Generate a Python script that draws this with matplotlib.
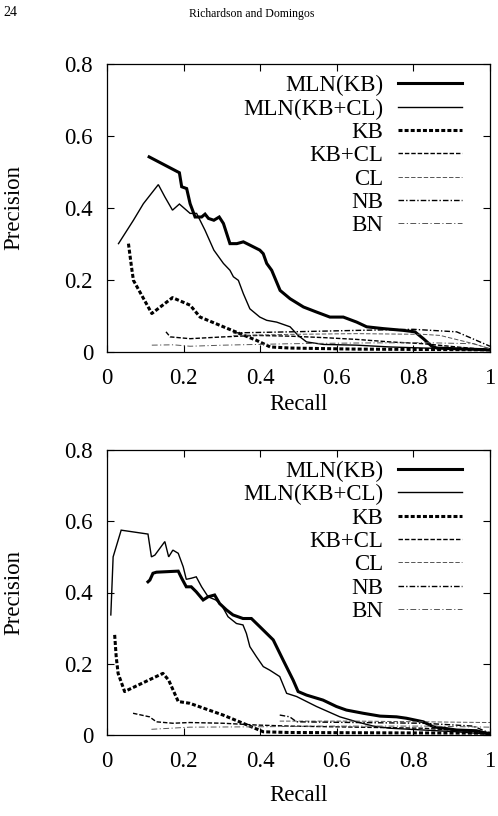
import numpy as np
import matplotlib
matplotlib.use("Agg")
import matplotlib.pyplot as plt

plt.rcParams['font.family'] = ['Liberation Serif', 'DejaVu Serif']
plt.rcParams['font.size'] = 16.5

labels = ['MLN(KB)', 'MLN(KB+CL)', 'KB', 'KB+CL', 'CL', 'NB', 'BN']

# ---- top panel ----
top_mlnkb_x = [0.11, 0.189, 0.195, 0.208, 0.217, 0.23, 0.247, 0.256, 0.265, 0.279, 0.293, 0.304,
               0.321, 0.339, 0.356, 0.373, 0.399, 0.408, 0.417, 0.43, 0.452, 0.478, 0.513, 0.547,
               0.582, 0.617, 0.652, 0.678, 0.721, 0.774, 0.804, 0.826, 0.848, 0.861, 0.913, 1.0]
top_mlnkb_y = [0.542, 0.498, 0.459, 0.454, 0.412, 0.375, 0.375, 0.383, 0.371, 0.366, 0.375, 0.357,
               0.301, 0.301, 0.306, 0.297, 0.283, 0.273, 0.246, 0.227, 0.171, 0.148, 0.125, 0.111,
               0.097, 0.097, 0.083, 0.070, 0.065, 0.060, 0.056, 0.037, 0.016, 0.011, 0.009, 0.006]

top_mlnkbcl_x = [0.03, 0.069, 0.095, 0.134, 0.151, 0.171, 0.189, 0.217, 0.234, 0.256, 0.279, 0.304,
                 0.321, 0.33, 0.343, 0.356, 0.373, 0.399, 0.417, 0.443, 0.478, 0.499, 0.521, 0.565,
                 0.652, 0.739, 0.826, 1.0]
top_mlnkbcl_y = [0.301, 0.366, 0.412, 0.465, 0.431, 0.394, 0.411, 0.385, 0.385, 0.338, 0.283, 0.246,
                 0.227, 0.209, 0.199, 0.162, 0.12, 0.097, 0.088, 0.083, 0.07, 0.046, 0.028, 0.021,
                 0.019, 0.014, 0.011, 0.007]

top_kb_x = [0.056, 0.064, 0.069, 0.117, 0.171, 0.217, 0.243, 0.304, 0.347, 0.391, 0.426, 0.478,
            0.652, 0.826, 1.0]
top_kb_y = [0.301, 0.236, 0.199, 0.107, 0.151, 0.13, 0.097, 0.07, 0.051, 0.032, 0.014, 0.011,
            0.008, 0.007, 0.006]

top_kbcl_x = [0.154, 0.165, 0.217, 0.304, 0.391, 0.478, 0.565, 0.652, 0.739, 0.826, 0.913, 1.0]
top_kbcl_y = [0.056, 0.042, 0.037, 0.042, 0.046, 0.044, 0.04, 0.035, 0.028, 0.023, 0.014, 0.006]

top_cl_x = [0.33, 0.478, 0.652, 0.826, 0.87, 0.957, 1.0]
top_cl_y = [0.046, 0.049, 0.051, 0.049, 0.046, 0.023, 0.009]

top_nb_x = [0.33, 0.478, 0.652, 0.8, 0.913, 1.0]
top_nb_y = [0.053, 0.056, 0.06, 0.063, 0.056, 0.016]

top_bn_x = [0.117, 0.173, 0.217, 0.304, 0.391, 0.478, 0.652, 0.826, 0.957, 1.0]
top_bn_y = [0.019, 0.02, 0.016, 0.019, 0.021, 0.023, 0.025, 0.026, 0.023, 0.009]

# ---- bottom panel ----
bot_mlnkb_x = [0.107, 0.112, 0.12, 0.129, 0.186, 0.195, 0.207, 0.22, 0.233, 0.251, 0.264, 0.281,
               0.294, 0.312, 0.329, 0.355, 0.377, 0.399, 0.434, 0.46, 0.486, 0.499, 0.521, 0.564,
               0.599, 0.625, 0.669, 0.713, 0.756, 0.782, 0.826, 0.852, 0.913, 0.965, 1.0]
bot_mlnkb_y = [0.43, 0.435, 0.454, 0.457, 0.46, 0.44, 0.416, 0.416, 0.402, 0.379, 0.388, 0.393,
               0.369, 0.351, 0.337, 0.327, 0.327, 0.304, 0.267, 0.21, 0.154, 0.122, 0.112, 0.098,
               0.08, 0.07, 0.061, 0.053, 0.051, 0.047, 0.037, 0.023, 0.014, 0.012, 0.002]

bot_mlnkbcl_x = [0.01, 0.016, 0.037, 0.107, 0.116, 0.125, 0.151, 0.161, 0.172, 0.186, 0.199, 0.207,
                 0.22, 0.233, 0.247, 0.264, 0.284, 0.299, 0.316, 0.338, 0.355, 0.364, 0.373, 0.39,
                 0.408, 0.425, 0.451, 0.469, 0.495, 0.547, 0.608, 0.652, 0.695, 0.739, 0.826, 0.913, 1.0]
bot_mlnkbcl_y = [0.337, 0.5, 0.575, 0.564, 0.5, 0.505, 0.543, 0.5, 0.519, 0.51, 0.472, 0.437,
                 0.44, 0.444, 0.416, 0.388, 0.379, 0.365, 0.332, 0.313, 0.309, 0.285, 0.248, 0.22,
                 0.192, 0.182, 0.164, 0.117, 0.108, 0.08, 0.051, 0.037, 0.025, 0.019, 0.014, 0.009, 0.002]

bot_kb_x = [0.02, 0.024, 0.029, 0.046, 0.146, 0.161, 0.186, 0.216, 0.303, 0.355, 0.408, 0.477, 1.0]
bot_kb_y = [0.281, 0.22, 0.173, 0.122, 0.173, 0.154, 0.094, 0.089, 0.056, 0.033, 0.009, 0.007, 0.005]

bot_kbcl_x = [0.068, 0.111, 0.129, 0.172, 0.216, 0.303, 0.39, 0.477, 0.652, 0.826, 1.0]
bot_kbcl_y = [0.061, 0.051, 0.037, 0.033, 0.035, 0.033, 0.028, 0.025, 0.022, 0.019, 0.007]

bot_cl_x = [0.451, 0.652, 0.826, 1.0]
bot_cl_y = [0.039, 0.039, 0.037, 0.035]

bot_nb_x = [0.451, 0.477, 0.495, 0.652, 0.826, 0.956, 1.0]
bot_nb_y = [0.056, 0.051, 0.037, 0.035, 0.033, 0.025, 0.005]

bot_bn_x = [0.116, 0.216, 0.39, 0.564, 0.826, 1.0]
bot_bn_y = [0.016, 0.022, 0.023, 0.025, 0.025, 0.022]

styles = [
    dict(color='black', lw=2.2, ls='-'),
    dict(color='black', lw=1.0, ls='-'),
    dict(color='black', lw=2.2, ls=(0, (1.3, 0.7))),
    dict(color='black', lw=1.0, ls=(0, (3.2, 1.4))),
    dict(color='#555555', lw=0.7, ls=(0, (4.5, 2.0))),
    dict(color='black', lw=1.0, ls=(0, (4, 1.5, 1, 1.5))),
    dict(color='#555555', lw=0.7, ls=(0, (6, 2.5, 1.2, 2.5))),
]

top_series = [(top_mlnkb_x, top_mlnkb_y), (top_mlnkbcl_x, top_mlnkbcl_y), (top_kb_x, top_kb_y),
              (top_kbcl_x, top_kbcl_y), (top_cl_x, top_cl_y), (top_nb_x, top_nb_y), (top_bn_x, top_bn_y)]
bot_series = [(bot_mlnkb_x, bot_mlnkb_y), (bot_mlnkbcl_x, bot_mlnkbcl_y), (bot_kb_x, bot_kb_y),
              (bot_kbcl_x, bot_kbcl_y), (bot_cl_x, bot_cl_y), (bot_nb_x, bot_nb_y), (bot_bn_x, bot_bn_y)]

fig = plt.figure(figsize=(4.98, 8.16), dpi=100)
W, H = 498, 816
ax1 = fig.add_axes([107 / W, (H - 352) / H, 383 / W, 288 / H])
ax2 = fig.add_axes([107 / W, (H - 735) / H, 383 / W, 285 / H])

for ax, series, xlab_y in [(ax1, top_series, -0.181), (ax2, bot_series, -0.211)]:
    for (x, y), lab, st in zip(series, labels, styles):
        ax.plot(x, y, label=lab, solid_joinstyle='miter', **st)
    ax.set_xlim(0, 1)
    ax.set_ylim(0, 0.8)
    ax.set_xticks([0, 0.2, 0.4, 0.6, 0.8, 1])
    ax.set_xticklabels(['0', '0.2', '0.4', '0.6', '0.8', '1'])
    ax.set_yticks([0, 0.2, 0.4, 0.6, 0.8])
    ax.set_yticklabels(['0', '0.2', '0.4', '0.6', '0.8'])
    ax.tick_params(direction='in', length=5, width=0.8, top=True, right=True,
                   labelsize=16.5, pad=11.5)
    ax.tick_params(axis='y', pad=10)
    for sp in ax.spines.values():
        sp.set_linewidth(0.9)
    ax.set_xlabel('Recall', fontsize=16.5, va='center')
    ax.set_ylabel('Precision', fontsize=16.5)
    ax.xaxis.set_label_coords(0.5, xlab_y)
    ax.yaxis.set_label_coords(-0.215, 0.5)
    ax.legend(loc='upper right', bbox_to_anchor=(0.927, 0.962), frameon=False, markerfirst=False,
              fontsize=16.5, handlelength=2.8, handletextpad=0.65, labelspacing=0.1,
              borderaxespad=0.0, borderpad=0.0)

fig.text(3 / W, 1 - 13 / H, '24', fontsize=10, va='center', ha='left')
fig.text(252 / W, 1 - 14 / H, 'Richardson and Domingos', fontsize=8.5, va='center', ha='center')

fig.savefig('out.png', dpi=100)
